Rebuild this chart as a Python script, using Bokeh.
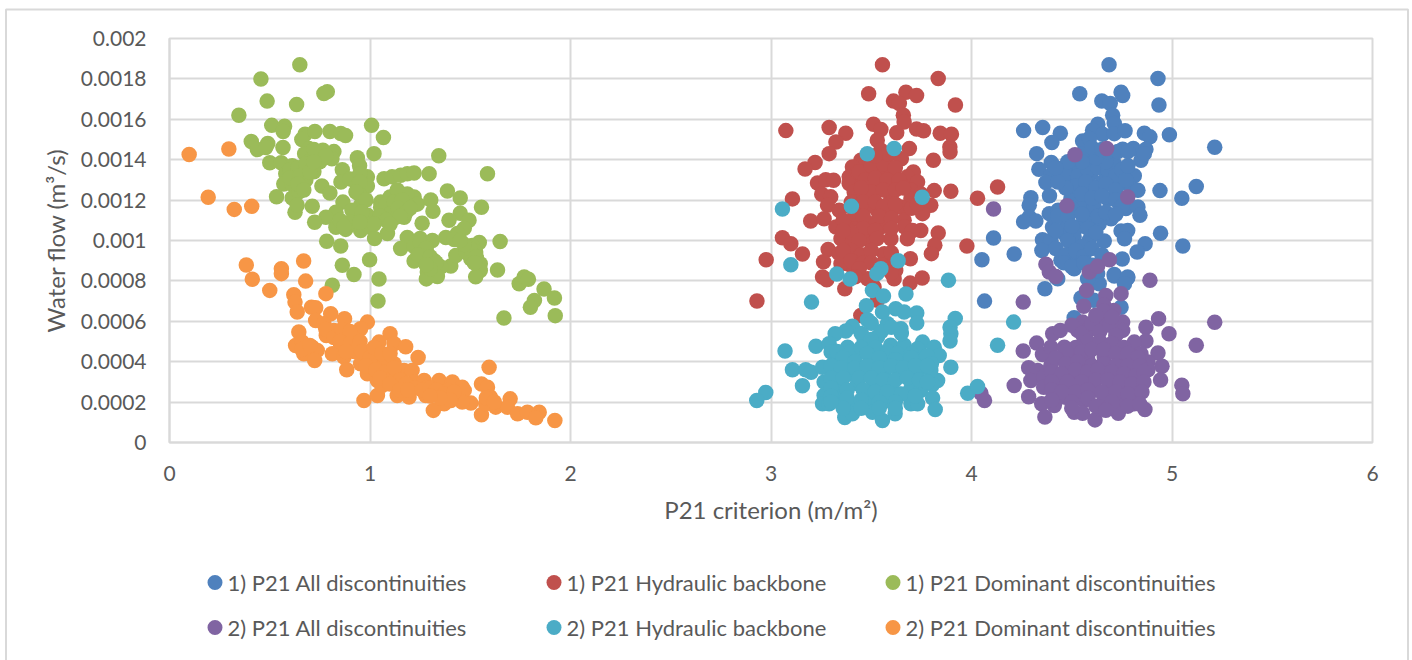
from bokeh.plotting import figure
from bokeh.models import FixedTicker, Range1d
from bokeh.core.properties import value
from bokeh.embed import file_html
from bokeh.resources import INLINE

FONT = "Lato"
TEXT = "#595959"
GRID = "#D9D9D9"

x_ticks = [0, 1, 2, 3, 4, 5, 6]
y_ticks = [0, 0.0002, 0.0004, 0.0006, 0.0008, 0.001, 0.0012, 0.0014, 0.0016, 0.0018, 0.002]
y_labels = ["0", "0.0002", "0.0004", "0.0006", "0.0008", "0.001", "0.0012", "0.0014", "0.0016", "0.0018", "0.002"]
x_title = "P21 criterion (m/m²)"
y_title = "Water flow (m³/s)"

# Flows below are in units of 1e-4 m3/s
all1_x = [4.686,4.93,4.54,4.746,4.754,4.65,4.692,4.935,4.704,4.712,4.63,4.26,4.355,4.443,4.604,4.654,4.712,4.766,4.862,4.89,4.987,5.213,4.401,4.554,4.588,4.325,4.754,4.807,4.87,4.845,4.862,4.579,4.629,4.712,4.662,4.398,4.336,4.446,4.496,4.562,4.396,4.371,4.438,4.512,4.595,4.679,4.812,4.779,4.73,4.496,4.588,4.654,5.121,4.94,5.049,4.83,4.389,4.296,4.288,4.582,4.679,4.496,4.77,4.83,4.84,4.388,4.432,4.546,4.612,4.696,4.637,4.288,4.321,4.26,4.404,4.471,4.53,4.585,4.462,4.512,4.587,4.354,4.396,4.662,4.746,4.779,4.763,4.943,4.866,4.826,5.054,4.11,4.213,4.052,4.351,4.48,4.446,4.538,4.512,4.604,4.752,4.712,4.779,4.629,4.421,4.366,4.43,4.065,4.712,4.779,4.763,4.637,4.579,4.546,4.61,4.746,4.512,
          4.47,4.53,4.58,4.63,4.68,4.72,4.75,4.52,4.57,4.62,4.67,4.72,4.77,4.47,4.43,4.55,4.6,4.65,4.72,4.75,4.5,4.43,4.48,4.55,4.63,4.67,4.72,4.5,4.58,4.62,4.42,4.48,4.55,4.42,4.47,4.52,4.56,4.6,4.65,4.46,4.5,4.56,4.62,4.67,4.62,4.55,4.68,4.6,4.65,4.73,4.78,4.55,4.48,4.42,4.78]
all1_y = [18.7,18.02,17.27,17.34,17.18,16.91,16.78,16.71,16.2,15.79,15.76,15.44,15.59,15.31,15.46,15.26,15.29,15.43,15.31,15.13,15.23,14.62,14.85,14.93,15.05,14.3,14.52,14.55,14.52,13.97,14.3,14.14,13.97,13.81,13.64,13.86,13.53,13.56,13.48,13.64,13.23,12.87,13.15,13.06,13.31,13.23,13.21,12.82,12.73,12.47,12.82,12.9,12.67,12.47,12.09,12.49,12.22,12.12,11.74,12.24,12.07,12.07,11.58,11.66,11.25,11.33,11.5,11.66,11.66,11.08,10.83,11.16,10.97,10.93,10.67,11.0,10.67,11.08,10.34,10.17,10.01,10.04,10.01,9.98,10.47,10.5,10.09,10.36,9.84,9.43,9.73,10.12,9.33,9.05,9.51,9.1,9.02,9.18,8.6,8.77,9.08,8.32,8.19,8.36,8.19,7.61,8.11,7.0,8.24,8.16,7.86,7.86,8.11,7.15,7.04,6.7,6.18,
          13.3,13.2,13.5,13.6,13.5,13.2,13.5,12.7,12.9,12.6,12.8,12.5,13,12.6,12.9,12.3,12.1,12.2,12,11.7,11.6,11.2,11.2,11.3,11.2,11.4,11.3,10.7,10.6,10.4,10.5,10,9.7,9.6,9.3,9.5,9.2,9.6,9.3,8.9,8.7,8.9,8.5,13.9,14.1,14.3,14.4,14.6,14.5,14.4,14.4,13.9,13.9,13.6,13.7]

back1_x = [3.556,3.834,3.487,3.673,3.726,3.611,3.64,3.92,3.66,3.664,3.074,3.29,3.373,3.511,3.548,3.627,3.726,3.761,3.844,3.9,3.892,3.893,3.324,3.29,3.53,3.69,3.81,3.22,3.17,3.548,3.58,3.65,3.514,3.448,3.406,3.71,3.68,3.731,3.39,3.39,3.432,3.49,3.548,3.606,3.606,3.514,3.456,3.232,3.273,3.312,3.814,3.897,4.03,4.13,3.107,3.253,3.298,3.415,3.473,3.424,3.598,3.698,3.698,3.748,3.797,3.282,3.34,3.4,3.49,3.53,3.598,3.648,3.756,3.664,3.667,3.198,3.265,3.324,3.382,3.44,3.507,3.548,3.349,3.407,3.49,3.598,3.456,3.747,3.706,3.68,3.834,3.817,3.8,3.057,3.099,3.157,2.976,3.285,3.34,3.262,3.565,3.695,3.977,3.431,3.465,3.382,3.349,3.415,3.257,3.278,3.368,3.694,3.754,3.614,3.514,3.482,2.93,3.448,3.531,3.622,3.581,
           3.44,3.5,3.56,3.62,3.58,3.52,3.47,3.52,3.58,3.64,3.5,3.56,3.62,3.66,3.45,3.4,3.46,3.52,3.56,3.62,3.7,3.73,3.36,3.42,3.46,3.54,3.6,3.46,3.52,3.4,3.36,3.6,3.53,3.44,3.4,3.45,3.5,3.36,3.4,3.46,3.5,3.55,3.44,3.6,3.6,3.42]
back1_y = [18.7,18.02,17.27,17.34,17.18,16.9,16.78,16.71,16.2,15.87,15.44,15.59,15.31,15.76,15.49,15.33,15.52,15.43,15.31,15.26,14.63,14.38,14.88,14.3,14.96,14.55,13.97,13.86,13.54,14.47,14.14,14.05,14.14,13.97,13.64,13.39,13.15,12.9,13.15,12.82,13.39,13.31,13.48,13.31,12.82,12.82,12.9,12.85,13.01,12.98,12.47,12.44,12.09,12.65,12.06,12.29,12.16,12.4,12.4,11.9,12.07,12.49,12.07,12.3,11.74,11.74,11.5,11.66,11.74,11.5,11.33,11.66,11.33,11.0,10.67,10.97,11.08,10.67,10.83,11.0,10.83,10.67,10.09,10.01,10.01,10.09,10.42,10.5,10.5,10.09,10.37,9.76,9.35,10.14,9.84,9.33,9.05,9.55,9.35,8.95,9.35,9.1,9.73,9.1,8.93,8.85,8.85,8.44,8.19,8.06,7.61,7.89,8.14,8.11,7.7,8.11,7.0,6.29,7.04,8.52,8.85,
           13.4,13.7,13.8,13.6,14.3,14.2,13,13.1,13,13,12.4,12.5,12.5,12.6,12.6,11.9,11.9,11.9,11.7,11.8,11.6,11.8,11,11.3,11.2,11.2,11.1,10.6,10.5,10.4,10.5,10.6,10.1,10,9.5,9.3,9.5,9.5,9,8.9,8.9,8.8,8.6,9.4,8.4,8.2]

dom1_x = [0.65,0.456,0.787,0.77,0.487,0.634,0.346,0.51,0.574,0.567,1.008,1.067,0.408,0.438,0.49,0.48,0.566,0.676,0.66,0.725,0.8,0.854,0.878,1.02,1.343,0.695,0.674,0.729,0.765,0.82,0.81,0.695,0.75,0.937,0.948,0.5,0.557,0.612,0.862,0.987,1.07,1.11,1.153,1.186,1.22,1.295,1.586,0.58,0.62,0.67,0.72,0.57,0.61,0.68,0.76,0.8,0.855,0.9,0.937,0.987,1.386,1.45,1.556,0.534,0.612,0.645,0.626,0.637,0.712,0.865,0.945,0.953,0.83,0.78,0.724,0.83,0.879,0.91,0.987,0.953,1.0,1.023,1.087,1.053,1.1,1.22,1.186,1.136,1.153,1.236,1.303,1.314,1.26,1.087,1.12,1.17,1.037,1.053,1.136,1.195,1.45,1.394,1.494,1.47,1.436,1.378,1.42,1.545,1.649,1.51,1.186,1.25,1.311,1.153,1.22,1.278,0.784,0.854,0.862,0.92,0.998,1.045,0.812,1.04,1.22,1.286,1.32,1.403,1.353,1.286,1.336,1.281,1.428,1.503,1.527,1.55,1.55,1.527,1.636,1.744,1.769,1.79,1.868,1.92,1.82,1.8,1.924,1.668,
          0.6,0.64,0.68,0.6,0.65,0.7,0.64,0.67,0.72,0.78,0.72,0.95,0.95,0.93,0.98,0.96,1.08,1.12,1.16,1.1,1.14,1.18,1.2,1.05,1.08,1.15,1.1,1.02,0.9,0.85,0.87,0.95,1.25,1.28,1.24,1.3,1.33,1.3,1.28,1.48,1.5,1.47,1.53,1.45,1.52]
dom1_y = [18.7,18.0,17.37,17.28,16.9,16.73,16.2,15.7,15.66,15.4,15.7,15.1,14.9,14.5,14.8,14.6,14.6,15.26,15.0,15.4,15.4,15.3,15.2,14.3,14.2,14.55,14.3,14.2,14.47,14.4,14.05,13.9,13.9,14.1,13.7,13.85,13.85,13.7,13.5,13.15,13.06,13.15,13.23,13.3,13.34,13.3,13.3,13.3,13.3,13.15,13.4,12.8,12.8,13.0,12.7,12.35,12.9,13.05,12.7,12.7,12.45,12.1,11.65,12.17,12.1,12.4,11.4,11.75,11.7,11.9,12.3,11.75,11.4,11.15,10.9,10.65,10.55,11.5,11.25,10.5,10.65,10.1,10.35,11.9,12.15,12.15,12.3,12.5,11.8,11.8,12.0,11.45,10.85,11.45,11.1,11.15,11.15,11.65,11.4,11.65,11.35,11.0,11.0,10.6,10.35,10.15,10.05,9.9,9.95,9.75,10.15,10.1,10.0,9.6,9.7,9.7,9.96,9.73,8.77,8.32,9.05,8.09,7.78,7.0,8.98,9.35,9.0,8.74,8.69,8.44,8.22,8.1,9.26,9.1,9.43,8.85,8.52,8.2,8.54,7.86,8.19,8.08,7.6,7.15,7.03,6.7,6.28,6.16,
          13.5,13.6,13.8,13.1,13.2,13.4,12.8,12.5,14.5,14.2,13.9,13.3,12.9,12.4,12,11.4,11.8,11.9,12,11.3,11.6,11.4,11.6,11.2,11,11.2,10.8,10.8,10.9,11,10.7,10.9,9.9,9.6,9.3,9.2,8.9,8.6,8.8,9.4,9.6,9.8,9.2,10,8.9]

all2_x = [4.516,4.674,4.779,4.476,4.11,4.371,4.388,4.421,4.588,4.629,4.688,4.89,4.574,4.67,4.746,4.258,4.56,4.66,4.71,4.933,5.213,4.754,4.754,4.87,4.985,4.405,4.443,4.554,4.529,4.595,4.662,4.325,4.258,4.354,4.396,4.463,4.87,4.812,5.121,4.93,4.845,4.796,4.562,4.629,4.712,4.496,4.579,4.662,4.746,4.285,4.33,4.396,4.296,4.36,4.36,4.95,4.88,4.84,4.943,4.82,5.049,5.054,4.213,4.285,4.35,4.413,4.366,4.496,4.579,4.662,4.746,4.446,4.53,4.612,4.696,4.779,4.462,4.562,4.662,4.746,4.824,4.512,4.554,4.616,4.645,4.732,4.865,4.812,4.047,4.065,
          4.5,4.55,4.6,4.64,4.69,4.72,4.66,4.62,4.7,4.58,4.64,4.7,4.76,4.52,4.47,4.55,4.6,4.66,4.72,4.78,4.83,4.42,4.47,4.53,4.6,4.66,4.72,4.78,4.84,4.88,4.4,4.45,4.52,4.58,4.63,4.7,4.76,4.82,4.86,4.4,4.48,4.55,4.62,4.68,4.74,4.8,4.86,4.4,4.45,4.52,4.58,4.65,4.72,4.78,4.85,4.4,4.5,4.58,4.62,4.7,4.78,4.84,4.5,4.67]
all2_y = [14.25,14.55,12.15,11.72,11.56,8.82,8.44,8.22,8.44,8.72,9.05,8.03,7.53,7.28,7.37,6.95,6.75,6.79,6.54,6.13,5.95,5.96,5.55,5.71,5.38,5.38,5.55,5.96,5.55,5.63,6.04,4.92,4.53,4.36,4.72,4.72,5.02,4.97,4.81,4.43,4.39,4.31,5.05,4.89,4.72,4.23,4.15,4.23,4.15,3.7,3.57,3.82,3.07,3.24,2.74,3.77,3.98,3.4,3.09,2.82,2.84,2.41,2.82,2.26,1.92,1.83,1.26,3.4,3.24,3.4,3.4,2.91,2.74,2.58,2.74,2.74,2.25,2.08,2.08,2.08,2.16,1.5,1.45,1.12,1.67,1.45,1.63,1.92,2.44,2.08,
          5.8,5.4,5.9,5.5,5.8,5.3,6.5,6.3,6.2,5,5,4.9,4.7,4.7,4.5,4.5,4.6,4.6,4.4,4.4,4.2,4.2,3.9,4,3.8,3.9,3.8,3.8,3.8,3.6,3.5,3.4,3.6,3.5,3.6,3.5,3.4,3.3,3.5,3,3,3,3.1,3.1,3,2.9,3,2.6,2.5,2.5,2.6,2.5,2.5,2.4,2.5,2.1,2,2.2,1.8,2,1.8,1.9,1.7,1.6]

back2_x = [3.057,3.48,3.614,3.754,3.401,3.099,3.634,3.548,3.528,3.328,3.395,3.885,3.506,3.561,3.673,3.202,3.476,3.556,3.622,3.664,3.727,3.727,3.919,3.893,3.897,3.893,4.13,4.21,3.481,3.406,3.373,3.32,3.581,3.648,3.224,3.29,3.07,3.107,3.173,3.2,3.157,2.974,2.929,3.3,3.382,3.465,3.531,3.597,3.664,3.756,3.814,3.731,3.839,3.897,3.831,3.806,3.257,3.332,3.415,3.498,3.581,3.681,3.764,3.323,3.398,3.481,3.564,3.647,3.731,3.797,3.265,3.348,3.432,3.514,3.598,3.698,3.748,3.265,3.257,3.29,3.349,3.415,3.5,3.581,3.806,3.698,3.731,3.819,3.368,3.406,3.506,3.556,3.619,3.981,4.03,3.631,
           3.5,3.55,3.6,3.65,3.45,3.5,3.4,3.45,3.52,3.58,3.63,3.7,3.33,3.36,3.42,3.48,3.54,3.62,3.7,3.78,3.8,3.3,3.35,3.42,3.48,3.54,3.6,3.66,3.72,3.78,3.3,3.36,3.44,3.5,3.56,3.62,3.68,3.74,3.78,3.3,3.38,3.46,3.52,3.58,3.65,3.72,3.3,3.38,3.45,3.54,3.62,3.45,3.54,3.62,3.36,3.3]
back2_y = [11.56,14.29,14.55,12.14,11.69,8.8,9.0,8.6,8.36,8.34,8.09,8.03,7.53,7.25,7.35,6.95,6.77,6.46,6.62,6.46,6.41,5.91,6.14,5.71,5.38,5.02,4.81,5.96,6.08,5.75,5.52,5.38,5.88,5.63,4.76,4.89,4.53,3.6,3.6,3.48,2.81,2.48,2.08,4.48,4.72,5.05,5.22,4.81,4.81,4.97,4.72,4.64,4.31,3.73,3.07,2.87,3.73,4.06,4.15,4.15,4.06,4.06,4.06,3.4,3.4,3.57,3.4,3.4,3.48,3.57,2.99,2.74,2.91,2.74,2.82,2.66,2.58,2.33,1.92,1.92,2.08,1.83,2.16,2.08,2.2,1.92,1.92,1.63,1.24,1.42,1.5,1.09,1.42,2.44,2.77,2.41,
           5.9,5.5,5.7,5.4,5.4,5.1,4.5,4.7,4.7,4.5,4.4,4.4,4.5,4.2,4,4.4,4.2,4.1,4.2,4.3,3.9,3.8,3.7,3.7,3.8,3.7,3.8,3.7,3.8,3.8,3.2,3.2,3.2,3.2,3.1,3.1,3.2,3.1,3,2.7,2.6,2.6,2.5,2.5,2.4,2.3,2.3,2.2,2.1,2,2,1.7,1.7,1.7,1.7,2]

dom2_x = [0.098,0.296,0.193,0.323,0.41,0.383,0.413,0.5,0.558,0.558,0.669,0.679,0.78,0.62,0.626,0.637,0.708,0.729,0.804,0.729,0.77,0.873,0.987,0.953,0.645,0.629,0.662,0.712,0.737,0.67,0.724,0.782,0.82,0.887,0.937,0.854,0.812,0.87,0.884,0.904,1.1,1.045,1.12,1.178,1.24,0.987,0.953,0.987,1.037,1.07,1.02,1.087,1.12,1.17,1.21,1.037,0.97,1.037,1.06,1.136,1.195,1.153,1.22,1.27,1.278,1.345,1.411,1.46,1.47,1.503,1.46,1.403,1.37,1.316,1.336,1.386,1.286,1.594,1.556,1.586,1.6,1.627,1.556,1.577,1.699,1.686,1.736,1.785,1.844,1.827,1.922,
          0.78,0.82,0.86,0.9,0.85,0.9,0.95,0.92,0.88,0.96,1.0,0.98,1.03,1.08,1.05,1.12,1.02,1.06,1.1,1.12,1.15,1.18,1.22,1.1,1.15,1.19,1.26,1.3,1.33,1.37,1.42,1.4,1.35,1.3,1.58,1.62,0.66,0.7]
dom2_y = [14.26,14.53,12.14,11.54,11.69,8.79,8.08,7.53,8.6,8.36,8.98,7.99,7.37,7.32,6.95,6.46,6.7,6.67,6.37,6.04,5.88,6.13,5.96,5.63,5.47,4.8,4.97,4.72,4.56,4.39,4.06,5.3,5.55,5.38,5.05,4.8,4.39,4.23,3.6,4.72,5.38,4.97,4.89,4.74,4.21,4.47,3.9,3.4,4.39,4.06,3.73,3.4,3.9,3.57,3.57,3.07,2.08,2.33,2.82,2.33,2.25,3.07,2.99,3.07,2.33,3.07,2.99,2.74,2.58,1.95,2.0,2.08,1.92,1.59,2.41,2.58,2.74,3.72,2.9,2.74,2.25,1.75,1.37,1.92,2.16,1.75,1.42,1.5,1.5,1.22,1.09,
          5.6,5.2,5.6,5.5,5,4.9,5,4.5,4.5,4.5,4.2,3.8,3.6,3.5,3.2,3.3,4.7,4.4,4.4,3.7,3.1,2.9,2.7,2.9,2.6,2.6,2.6,2.7,2.6,2.4,2.5,2.1,2.2,2.3,2.2,2.0,4.6,4.8]

series_names = ["1) P21 All discontinuities", "1) P21 Hydraulic backbone", "1) P21 Dominant discontinuities",
                "2) P21 All discontinuities", "2) P21 Hydraulic backbone", "2) P21 Dominant discontinuities"]
series_x = [all1_x, back1_x, dom1_x, all2_x, back2_x, dom2_x]
series_y = [all1_y, back1_y, dom1_y, all2_y, back2_y, dom2_y]
series_colors = ["#4F81BD", "#C0504D", "#9BBB59", "#8064A2", "#4BACC6", "#F79646"]

ABS = {"position": "absolute", "left": "0px", "top": "0px"}

# Sheet behind the chart: outer chart border and the legend, in page pixels
bg = figure(width=1412, height=660, output_backend="svg", toolbar_location=None,
            x_range=Range1d(0, 1412), y_range=Range1d(660, 0),
            x_axis_type=None, y_axis_type=None, min_border=0, outline_line_color=None,
            styles=ABS)
bg.grid.visible = False
bg.line([5.5, 5.5, 1407.5, 1407.5], [700, 9, 9, 700], line_color=GRID, line_width=2)

legend_key_x = [214.5, 553.5, 892.5, 214.5, 553.5, 892.5]
legend_text_x = [227, 566, 905, 227, 566, 905]
legend_y = [582, 582, 582, 627, 627, 627]
bg.scatter(legend_key_x, legend_y, size=15, color=series_colors, line_width=0)
bg.text(legend_text_x, legend_y, text=series_names, text_font=value(FONT), text_font_size="22px",
        text_color=TEXT, text_align="left", text_baseline="middle")

# The chart itself
p = figure(width=1412, height=660, output_backend="svg", toolbar_location=None,
           x_range=Range1d(0, 6), y_range=Range1d(0, 0.002),
           min_border_left=169, min_border_right=40, min_border_top=38, min_border_bottom=218,
           outline_line_color=GRID, outline_line_width=2,
           background_fill_color=None, border_fill_color=None,
           styles=ABS)

p.xaxis.ticker = FixedTicker(ticks=x_ticks)
p.yaxis.ticker = FixedTicker(ticks=y_ticks)
p.yaxis.major_label_overrides = {t: l for t, l in zip(y_ticks, y_labels)}
p.xaxis.major_label_overrides = {t: str(t) for t in x_ticks}
for ax in (p.xaxis[0], p.yaxis[0]):
    ax.axis_line_color = GRID
    ax.axis_line_width = 2
    ax.major_tick_line_color = None
    ax.minor_tick_line_color = None
    ax.major_label_text_color = TEXT
    ax.major_label_text_font = FONT
    ax.major_label_text_font_size = "21px"
    ax.axis_label_text_color = TEXT
    ax.axis_label_text_font = FONT
    ax.axis_label_text_font_size = "24px"
    ax.axis_label_text_font_style = "normal"
p.xaxis.axis_label = x_title
p.yaxis.axis_label = y_title
p.xaxis.major_label_standoff = 17
p.yaxis.major_label_standoff = 17
p.xaxis.axis_label_standoff = 11
p.yaxis.axis_label_standoff = 8
p.grid.grid_line_color = GRID
p.grid.grid_line_width = 2

for xs, ys, color in zip(series_x, series_y, series_colors):
    p.scatter(xs, [v * 1e-4 for v in ys], size=15.5, color=color, line_width=0)

open("out.html", "w").write(file_html((bg, p), INLINE))
